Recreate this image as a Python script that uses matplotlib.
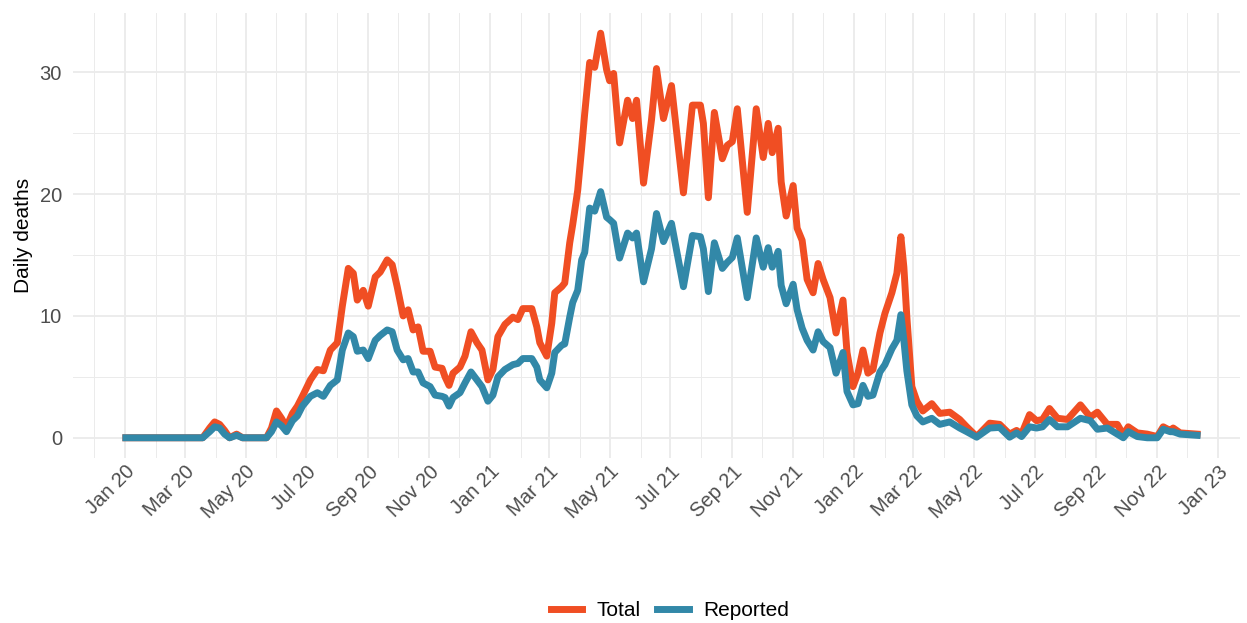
import numpy as np
import pandas as pd
import matplotlib
matplotlib.use("Agg")
import matplotlib.pyplot as plt
import matplotlib.dates as mdates
from matplotlib.lines import Line2D

plt.rcParams['font.family'] = ['Liberation Sans', 'DejaVu Sans']

# values
dates = [
    "2020-01-02", "2020-01-26", "2020-02-25", "2020-03-19", "2020-03-26", "2020-03-31",
    "2020-04-05", "2020-04-10", "2020-04-15", "2020-04-22", "2020-04-28", "2020-05-10",
    "2020-05-22", "2020-05-27", "2020-06-01", "2020-06-06", "2020-06-11", "2020-06-17",
    "2020-06-22", "2020-06-27", "2020-07-05", "2020-07-12", "2020-07-18", "2020-07-25",
    "2020-08-01", "2020-08-06", "2020-08-12", "2020-08-17", "2020-08-21", "2020-08-27",
    "2020-09-01", "2020-09-08", "2020-09-13", "2020-09-20", "2020-09-25", "2020-09-30",
    "2020-10-06", "2020-10-11", "2020-10-16", "2020-10-21", "2020-10-26", "2020-11-02",
    "2020-11-07", "2020-11-14", "2020-11-17", "2020-11-21", "2020-11-25", "2020-12-02",
    "2020-12-07", "2020-12-13", "2020-12-19", "2020-12-24", "2020-12-30", "2021-01-04",
    "2021-01-09", "2021-01-16", "2021-01-24", "2021-01-29", "2021-02-03", "2021-02-12",
    "2021-02-17", "2021-02-20", "2021-02-27", "2021-03-04", "2021-03-07", "2021-03-14",
    "2021-03-17", "2021-03-22", "2021-03-25", "2021-03-30", "2021-04-03", "2021-04-06",
    "2021-04-11", "2021-04-16", "2021-04-22", "2021-04-28", "2021-05-01", "2021-05-05",
    "2021-05-11", "2021-05-19", "2021-05-24", "2021-05-28", "2021-06-04", "2021-06-12",
    "2021-06-17", "2021-06-24", "2021-07-02", "2021-07-14", "2021-07-23", "2021-07-31",
    "2021-08-03", "2021-08-08", "2021-08-14", "2021-08-22", "2021-08-27", "2021-09-01",
    "2021-09-06", "2021-09-16", "2021-09-25", "2021-10-02", "2021-10-07", "2021-10-11",
    "2021-10-17", "2021-10-20", "2021-10-25", "2021-11-01", "2021-11-05", "2021-11-10",
    "2021-11-15", "2021-11-21", "2021-11-26", "2021-12-01", "2021-12-08", "2021-12-14",
    "2021-12-21", "2021-12-25", "2021-12-31", "2022-01-05", "2022-01-10", "2022-01-15",
    "2022-01-20", "2022-01-27", "2022-02-01", "2022-02-08", "2022-02-13", "2022-02-17",
    "2022-02-20", "2022-02-23", "2022-02-28", "2022-03-05", "2022-03-11", "2022-03-20",
    "2022-03-28", "2022-04-07", "2022-04-17", "2022-04-24", "2022-05-04", "2022-05-17",
    "2022-05-27", "2022-06-06", "2022-06-13", "2022-06-18", "2022-06-26", "2022-07-03",
    "2022-07-09", "2022-07-16", "2022-07-24", "2022-08-03", "2022-08-16", "2022-08-26",
    "2022-09-02", "2022-09-12", "2022-09-22", "2022-09-28", "2022-10-03", "2022-10-12",
    "2022-10-22", "2022-11-01", "2022-11-07", "2022-11-14", "2022-11-17", "2022-11-24",
    "2022-12-11",
]

total = [
    0, 0, 0, 0, 0.8, 1.3,
    1.1, 0.6, 0.0, 0.3, 0, 0,
    0, 0.8, 2.2, 1.6, 0.9, 2.0,
    2.6, 3.4, 4.75, 5.6, 5.5, 7.2,
    7.8, 10.8, 13.9, 13.5, 11.3, 12.1,
    10.8, 13.2, 13.6, 14.6, 14.2, 12.4,
    10.0, 10.5, 8.85, 9.1, 7.1, 7.1,
    5.8, 5.7, 5.0, 4.3, 5.3, 5.8,
    6.7, 8.7, 7.8, 7.2, 4.75, 5.6,
    8.3, 9.3, 9.9, 9.7, 10.6, 10.6,
    9.1, 7.8, 6.7, 9.4, 11.9, 12.4,
    12.7, 16.0, 17.5, 20.3, 23.8, 26.6,
    30.8, 30.4, 33.2, 30.2, 29.3, 29.9,
    24.2, 27.7, 26.2, 27.7, 20.9, 26.1,
    30.3, 26.2, 28.9, 20.1, 27.3, 27.3,
    25.8, 19.7, 26.7, 22.9, 24.0, 24.3,
    27.0, 18.5, 27.0, 23.0, 25.8, 23.4,
    25.4, 21.0, 18.2, 20.7, 17.2, 16.2,
    13.0, 11.9, 14.3, 13.0, 11.5, 8.6,
    11.3, 7.0, 4.2, 5.3, 7.2, 5.3,
    5.6, 8.6, 10.2, 11.9, 13.5, 16.5,
    14.0, 9.9, 4.2, 3.0, 2.2, 2.8,
    2.0, 2.1, 1.5, 0.9, 0.1, 1.2,
    1.1, 0.3, 0.6, 0.3, 1.9, 1.4,
    1.5, 2.4, 1.6, 1.5, 2.7, 1.7,
    2.1, 1.1, 1.1, 0.25, 0.9, 0.4,
    0.3, 0.1, 0.9, 0.6, 0.8, 0.4,
    0.3,
]

reported = [
    0, 0, 0, 0, 0.5, 0.9,
    0.8, 0.3, 0.0, 0.2, 0, 0,
    0, 0.5, 1.3, 1.0, 0.5, 1.4,
    1.8, 2.6, 3.4, 3.7, 3.4, 4.3,
    4.75, 7.2, 8.6, 8.3, 7.1, 7.2,
    6.5, 8.0, 8.4, 8.85, 8.7, 7.2,
    6.4, 6.5, 5.4, 5.4, 4.5, 4.2,
    3.5, 3.4, 3.3, 2.6, 3.3, 3.7,
    4.5, 5.4, 4.75, 4.2, 3.0, 3.5,
    5.0, 5.6, 6.0, 6.1, 6.5, 6.5,
    5.8, 4.75, 4.1, 5.3, 7.0, 7.6,
    7.7, 9.9, 11.1, 12.1, 14.6, 15.2,
    18.85, 18.6, 20.2, 18.1, 17.9, 17.6,
    14.75, 16.8, 16.4, 16.8, 12.8, 15.5,
    18.4, 16.1, 17.6, 12.4, 16.6, 16.5,
    15.5, 12.0, 16.0, 13.9, 14.4, 14.8,
    16.4, 11.5, 16.4, 14.0, 15.6, 14.0,
    15.3, 12.5, 11.0, 12.6, 10.5, 9.0,
    8.0, 7.2, 8.7, 7.9, 7.4, 5.3,
    7.0, 3.8, 2.7, 2.8, 4.3, 3.4,
    3.5, 5.4, 6.0, 7.3, 8.0, 10.1,
    8.0, 5.5, 2.7, 1.8, 1.3, 1.6,
    1.1, 1.3, 0.8, 0.5, 0.05, 0.8,
    0.85, 0.05, 0.4, 0.1, 0.9, 0.8,
    0.9, 1.5, 0.9, 0.9, 1.6, 1.4,
    0.7, 0.8, 0.3, 0.0, 0.5, 0.1,
    0.0, 0.0, 0.7, 0.5, 0.5, 0.3,
    0.2,
]

series_names = ["Total", "Reported"]
series_colors = ["#F04E23", "#3288A8"]

x = pd.to_datetime(dates)

W, H = 1247, 623
fig = plt.figure(figsize=(W / 100, H / 100), dpi=100)
ax = fig.add_axes([73 / W, 1 - 458 / H, (1240 - 73) / W, (458 - 13) / H])

for vals, name, col in zip([total, reported], series_names, series_colors):
    ax.plot(x, vals, color=col, lw=5, solid_joinstyle='round', label=name)

ax.set_xlim(pd.Timestamp("2020-01-01") - pd.Timedelta(days=52),
            pd.Timestamp("2020-01-01") + pd.Timedelta(days=1118))
ax.set_ylim(-1.66, 34.86)

ax.xaxis.set_major_locator(mdates.MonthLocator(bymonth=[1, 3, 5, 7, 9, 11]))
ax.xaxis.set_minor_locator(mdates.MonthLocator(bymonth=[2, 4, 6, 8, 10, 12]))
ax.xaxis.set_major_formatter(mdates.DateFormatter('%b %y'))
ax.set_yticks([0, 10, 20, 30])
ax.set_yticks([5, 15, 25], minor=True)

ax.grid(which='major', color='#EBEBEB', lw=1.3)
ax.grid(which='minor', color='#EBEBEB', lw=0.7)
ax.set_axisbelow(True)
for s in ax.spines.values():
    s.set_visible(False)
ax.tick_params(which='both', length=0, labelsize=14.5, labelcolor='#4D4D4D')
ax.tick_params(axis='y', pad=8)
ax.tick_params(axis='x', pad=3)
for lab in ax.get_xticklabels():
    lab.set_rotation(45)
    lab.set_ha('right')
    lab.set_va('top')
    lab.set_rotation_mode('anchor')

ax.set_ylabel("Daily deaths", fontsize=15, color='black', labelpad=5)

handles = [Line2D([], [], color=c, lw=5) for c in series_colors]
fig.legend(handles, series_names, loc='center', bbox_to_anchor=(670 / W, 1 - 611 / H),
           ncol=2, frameon=False, fontsize=15, handlelength=1.5, columnspacing=0.8,
           handletextpad=0.7)

fig.savefig("out.png", dpi=100)
